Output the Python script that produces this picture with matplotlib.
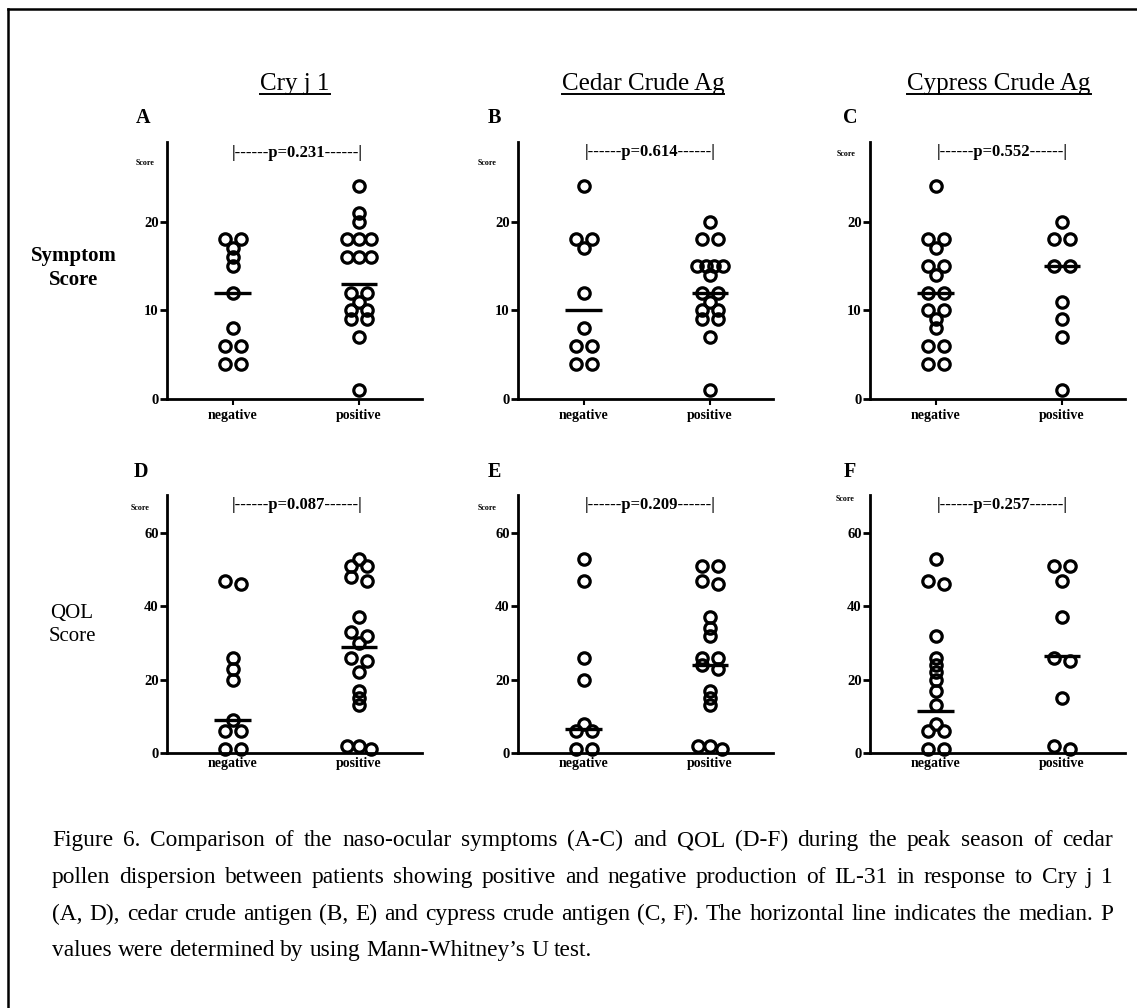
import numpy as np
import matplotlib
matplotlib.use('Agg')
import matplotlib.pyplot as plt
from matplotlib.lines import Line2D

plt.rcParams['font.family'] = ['Liberation Serif', 'DejaVu Serif']

W, H = 1137, 1008

# ---------------- data ----------------
categories = ['negative', 'positive']
titles = ['Cry j 1', 'Cedar Crude Ag', 'Cypress Crude Ag']
panel_letters = ['A', 'B', 'C', 'D', 'E', 'F']
p_values = ['0.231', '0.614', '0.552', '0.087', '0.209', '0.257']
row_labels = ['Symptom\nScore', 'QOL\nScore']

A_neg = [18, 18, 17, 16, 15, 12, 8, 6, 6, 4, 4]
A_pos = [24, 21, 20, 18, 18, 18, 16, 16, 16, 12, 12, 11, 10, 10, 9, 9, 7, 1]
B_neg = [24, 18, 18, 17, 12, 8, 6, 6, 4, 4]
B_pos = [20, 18, 18, 15, 15, 15, 15, 14, 12, 12, 11, 10, 10, 9, 9, 7, 1]
C_neg = [24, 18, 18, 17, 15, 15, 14, 12, 12, 10, 10, 9, 8, 6, 6, 4, 4]
C_pos = [20, 18, 18, 15, 15, 11, 9, 7, 1]
D_neg = [47, 46, 26, 23, 20, 9, 6, 6, 1, 1]
D_pos = [53, 51, 51, 48, 47, 37, 33, 32, 30, 26, 25, 22, 17, 15, 13, 2, 2, 1]
E_neg = [53, 47, 26, 20, 8, 6, 6, 1, 1]
E_pos = [51, 51, 47, 46, 37, 34, 32, 26, 26, 24, 23, 17, 15, 13, 2, 2, 1]
F_neg = [53, 47, 46, 32, 26, 24, 22, 20, 17, 13, 8, 6, 6, 1, 1]
F_pos = [51, 51, 47, 37, 26, 25, 15, 2, 1]

medians_neg = [12, 10, 12, 9, 6.5, 11.5]
medians_pos = [13, 12, 15, 29, 24, 26.5]

top_ticks = [0, 10, 20]
bottom_ticks = [0, 20, 40, 60]

caption_lines = [
    "Figure 6. Comparison of the naso-ocular symptoms (A-C) and QOL (D-F) during the peak season of cedar",
    "pollen dispersion between patients showing positive and negative production of IL-31 in response to Cry j 1",
    "(A, D), cedar crude antigen (B, E) and cypress crude antigen (C, F). The horizontal line indicates the median. P",
    "values were determined by using Mann-Whitney\u2019s U test.",
]

groups = [(A_neg, A_pos), (B_neg, B_pos), (C_neg, C_pos),
          (D_neg, D_pos), (E_neg, E_pos), (F_neg, F_pos)]

# ---------------- layout ----------------
fig = plt.figure(figsize=(W / 100, H / 100), dpi=100)
renderer = fig.canvas.get_renderer()

def fx(x):
    return x / W

def fy(y):
    return 1 - y / H

lefts = [167, 518, 870]
axw = 255
rows_tb = [(142, 399), (495, 753)]
ylims = [(0, 29), (0, 70.4)]
XL = (0.48, 2.5)

spacing_by_n = {1: 0, 2: 16, 3: 12, 4: 8.5, 5: 7, 6: 6}

def swarm_offsets(vals, ppu_y, ppu_x, delta_px=5.0):
    vals = np.asarray(vals, float)
    order = np.argsort(-vals, kind='stable')
    rows = []
    for i in order:
        if rows and (vals[rows[-1][0]] - vals[i]) * ppu_y < delta_px:
            rows[-1].append(i)
        else:
            rows.append([i])
    offs = np.zeros(len(vals))
    for r in rows:
        n = len(r)
        s = spacing_by_n.get(n, 6)
        for k, i in enumerate(r):
            offs[i] = (k - (n - 1) / 2) * s / ppu_x
    return offs

# frame (top and left edges visible)
fig.add_artist(Line2D([fx(8), fx(8)], [fy(9), 0], transform=fig.transFigure, color='black', lw=1.8))
fig.add_artist(Line2D([fx(8), 1], [fy(9), fy(9)], transform=fig.transFigure, color='black', lw=1.8))

score_pos = [(145, 163), (487, 163), (846, 154), (140, 508), (487, 508), (845, 499)]
p_pos = [(297, 153), (650, 152), (1002, 152), (297, 505), (650, 505), (1002, 505)]
letter_pos = [(143, 118), (494, 118), (850, 118), (141, 472), (494, 472), (850, 472)]

for idx, (neg, pos) in enumerate(groups):
    r, c = divmod(idx, 3)
    top, bot = rows_tb[r]
    ax = fig.add_axes([fx(lefts[c]), fy(bot), axw / W, (bot - top) / H])
    ax.set_xlim(*XL)
    ax.set_ylim(*ylims[r])
    ppu_x = axw / (XL[1] - XL[0])
    ppu_y = (bot - top) / (ylims[r][1] - ylims[r][0])
    for xc, vals, med in ((1, neg, medians_neg[idx]), (2, pos, medians_pos[idx])):
        offs = swarm_offsets(vals, ppu_y, ppu_x)
        ax.plot(xc + offs, vals, 'o', ms=8.2, mfc='none', mec='black', mew=2.3,
                clip_on=False, zorder=3)
        ax.hlines(med, xc - 0.145, xc + 0.145, color='black', lw=2.4, zorder=4)
    for s in ('top', 'right'):
        ax.spines[s].set_visible(False)
    for s in ('left', 'bottom'):
        ax.spines[s].set_linewidth(2.0)
    ticks = top_ticks if r == 0 else bottom_ticks
    ax.set_yticks(ticks, [str(t) for t in ticks], fontweight='bold', fontsize=10.5)
    ax.set_xticks([1, 2], categories, fontweight='bold', fontsize=10)
    ax.tick_params(axis='y', length=5, width=2, pad=1)
    if r == 0:
        ax.tick_params(axis='x', length=4, width=1.5, pad=3)
    else:
        ax.tick_params(axis='x', length=0, pad=3)
    sx, sy = score_pos[idx]
    fig.text(fx(sx), fy(sy), 'Score', fontsize=5.8, fontweight='bold', ha='center', va='center')
    px, py = p_pos[idx]
    fig.text(fx(px), fy(py), '|------p=' + p_values[idx] + '------|', fontsize=12,
             fontweight='bold', ha='center', va='center')
    lx, ly = letter_pos[idx]
    fig.text(fx(lx), fy(ly), panel_letters[idx], fontsize=14.5, fontweight='bold',
             ha='center', va='center')

# column titles with underline
title_x = [295, 643, 999]
for t, x in zip(titles, title_x):
    txt = fig.text(fx(x), fy(90), t, fontsize=18, ha='center', va='baseline')
    bb = txt.get_window_extent(renderer=renderer)
    fig.add_artist(Line2D([bb.x0 / W, bb.x1 / W], [fy(93.5), fy(93.5)],
                          transform=fig.transFigure, color='black', lw=1.4))

# row labels
fig.text(fx(74), fy(268), row_labels[0], fontsize=15, fontweight='bold', ha='center',
         va='center', linespacing=1.25)
fig.text(fx(72), fy(625), row_labels[1], fontsize=15, ha='center',
         va='center', linespacing=1.25)

# caption (justified), font size fitted to the text block width
cap_left, cap_right = 52, 1113
baselines = [846, 883, 920, 956]
probe_fs = 14.0
maxw = 0
for line in caption_lines[:3]:
    tmp = fig.text(0, 0, line, fontsize=probe_fs)
    maxw = max(maxw, tmp.get_window_extent(renderer=renderer).width)
    tmp.remove()
cap_fs = probe_fs * (cap_right - cap_left) / maxw * 0.985

tmp1 = fig.text(0, 0, 'a a', fontsize=cap_fs)
tmp2 = fig.text(0, 0, 'aa', fontsize=cap_fs)
space_w = tmp1.get_window_extent(renderer=renderer).width - tmp2.get_window_extent(renderer=renderer).width
tmp1.remove()
tmp2.remove()

for li, (line, yb) in enumerate(zip(caption_lines, baselines)):
    words = line.split(' ')
    texts = [fig.text(0, fy(yb), w, fontsize=cap_fs, ha='left', va='baseline') for w in words]
    widths = [t.get_window_extent(renderer=renderer).width for t in texts]
    if li < len(caption_lines) - 1:
        gap = (cap_right - cap_left - sum(widths)) / (len(words) - 1)
    else:
        gap = space_w
    x = cap_left
    for t, w in zip(texts, widths):
        t.set_x(fx(x))
        x += w + gap

fig.savefig('out.png', dpi=100)
